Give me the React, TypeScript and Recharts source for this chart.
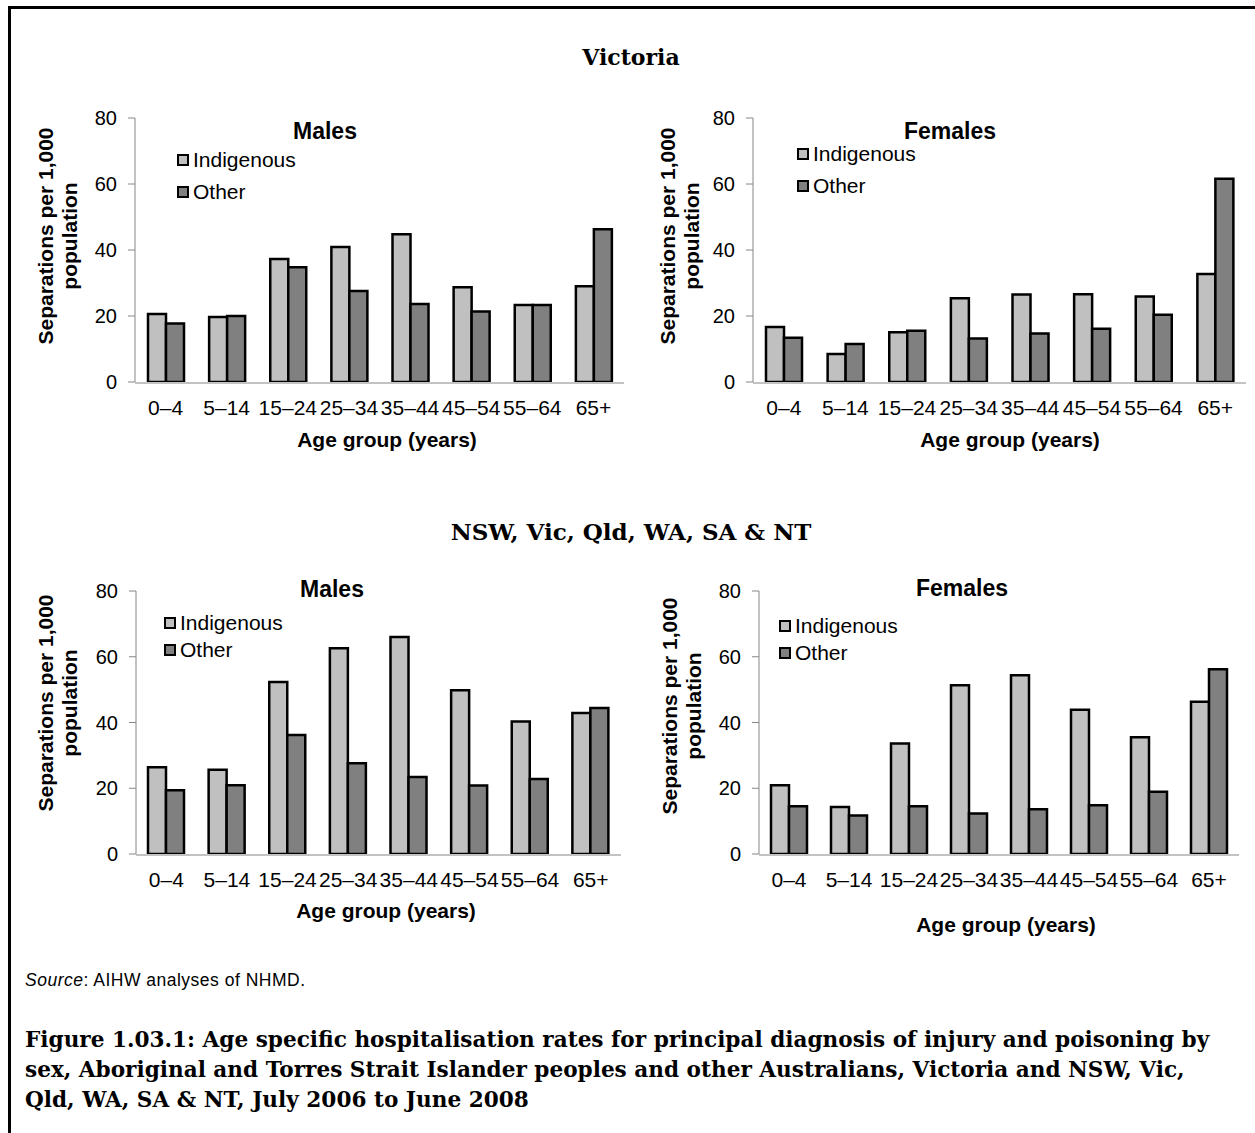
import React from "react";
import { BarChart, Bar, XAxis, YAxis, Legend } from "recharts";

// age groups on the x axis
const ageGroups = ["0–4", "5–14", "15–24", "25–34", "35–44", "45–54", "55–64", "65+"];

// Victoria
const vicMalesIndigenous = [20.6, 19.7, 37.3, 40.9, 44.8, 28.7, 23.3, 29.0];
const vicMalesOther = [17.7, 20.0, 34.8, 27.6, 23.6, 21.4, 23.3, 46.3];
const vicFemalesIndigenous = [16.7, 8.5, 15.1, 25.4, 26.5, 26.6, 25.9, 32.7];
const vicFemalesOther = [13.4, 11.5, 15.5, 13.2, 14.7, 16.1, 20.4, 61.6];

// NSW, Vic, Qld, WA, SA & NT
const allMalesIndigenous = [26.4, 25.6, 52.3, 62.6, 66.0, 49.8, 40.3, 42.9];
const allMalesOther = [19.4, 20.9, 36.2, 27.6, 23.4, 20.8, 22.8, 44.4];
const allFemalesIndigenous = [20.9, 14.3, 33.6, 51.3, 54.4, 43.9, 35.5, 46.3];
const allFemalesOther = [14.5, 11.7, 14.5, 12.3, 13.6, 14.8, 18.9, 56.2];

const yTicks = [0, 20, 40, 60, 80];
const edgeTicks = [0, 1, 2, 3, 4, 5, 6, 7, 8];

const SANS = "'Liberation Sans', Arial, sans-serif";
const SERIF = "'DejaVu Serif', serif";
const AXIS = "#868686";
const LIGHT = "#c0c0c0";
const DARK = "#808080";

const makeData = (ind: number[], oth: number[]) =>
  ageGroups.map((group, i) => ({ group, indigenous: ind[i], other: oth[i] }));

const Txt = ({ x, y, children, style }: any) => (
  <div
    style={{
      position: "absolute",
      left: x,
      top: y,
      transform: "translate(-50%, -50%)",
      whiteSpace: "nowrap",
      ...style,
    }}
  >
    {children}
  </div>
);

const YTitle = ({ x, y }: any) => (
  <div
    style={{
      position: "absolute",
      left: x,
      top: y,
      transform: "translate(-50%, -50%) rotate(-90deg)",
      whiteSpace: "nowrap",
      textAlign: "center",
      fontFamily: SANS,
      fontWeight: "bold",
      fontSize: 21,
      lineHeight: "24px",
    }}
  >
    Separations per 1,000
    <br />
    population
  </div>
);

const renderLegend = (rowH: number) => (props: any) => (
  <div style={{ fontFamily: SANS, fontSize: 21, color: "#000" }}>
    {(props.payload || []).map((e: any) => (
      <div key={e.value} style={{ display: "flex", alignItems: "center", height: rowH }}>
        <span
          style={{
            display: "inline-block",
            boxSizing: "border-box",
            width: 12,
            height: 12,
            background: e.color,
            border: "2px solid #000",
            marginRight: 4,
          }}
        />
        {e.value}
      </div>
    ))}
  </div>
);

const Panel = ({ data, title, p }: any) => {
  const chartLeft = p.plotLeft - 60;
  const chartTop = p.plotTop - 10;
  return (
    <>
      <div style={{ position: "absolute", left: chartLeft, top: chartTop }}>
        <BarChart
          width={60 + p.plotWidth + 10}
          height={10 + p.plotHeight + 2 + 48}
          data={data}
          margin={{ top: 10, right: 10, bottom: 48, left: 0 }}
          barGap={0}
          barSize={18}
        >
          <XAxis
            xAxisId="edge"
            type="number"
            domain={[0, 8]}
            ticks={edgeTicks}
            allowDataOverflow
            height={1}
            tick={false}
            tickSize={6}
            axisLine={{ stroke: AXIS }}
            tickLine={{ stroke: AXIS }}
          />
          <XAxis
            xAxisId="cat"
            dataKey="group"
            type="category"
            height={1}
            interval={0}
            axisLine={false}
            tickLine={false}
            tickSize={0}
            tickMargin={18}
            tick={{ fill: "#000", fontSize: 21, fontFamily: SANS }}
          />
          <YAxis
            type="number"
            domain={[0, 80]}
            ticks={yTicks}
            allowDataOverflow
            width={60}
            interval={0}
            tickSize={7}
            tickMargin={11}
            axisLine={{ stroke: AXIS }}
            tickLine={{ stroke: AXIS }}
            tick={{ fill: "#000", fontSize: 20, fontFamily: SANS }}
          />
          <Legend
            layout="vertical"
            align="center"
            verticalAlign="middle"
            wrapperStyle={{ left: p.legendLeft - chartLeft, top: p.legendTop - chartTop, width: 200, height: 70 }}
            content={renderLegend(p.legendRow)}
          />
          <Bar
            xAxisId="cat"
            dataKey="indigenous"
            name="Indigenous"
            fill={LIGHT}
            stroke="#000"
            strokeWidth={2.5}
            isAnimationActive={false}
          />
          <Bar
            xAxisId="cat"
            dataKey="other"
            name="Other"
            fill={DARK}
            stroke="#000"
            strokeWidth={2.5}
            isAnimationActive={false}
          />
        </BarChart>
      </div>
      <Txt x={p.titleX} y={p.titleY} style={{ fontFamily: SANS, fontWeight: "bold", fontSize: 23 }}>
        {title}
      </Txt>
      <Txt x={p.xTitleX} y={p.xTitleY} style={{ fontFamily: SANS, fontWeight: "bold", fontSize: 21 }}>
        Age group (years)
      </Txt>
      <YTitle x={p.yTitleX} y={p.yTitleY} />
    </>
  );
};

const vicMalesPos = {
  plotLeft: 135, plotTop: 118, plotWidth: 489, plotHeight: 264,
  legendLeft: 177, legendTop: 144, legendRow: 32,
  titleX: 325, titleY: 131, xTitleX: 387, xTitleY: 440, yTitleX: 58, yTitleY: 236,
};
const vicFemalesPos = {
  plotLeft: 753, plotTop: 118, plotWidth: 493, plotHeight: 264,
  legendLeft: 797, legendTop: 138, legendRow: 32,
  titleX: 950, titleY: 131, xTitleX: 1010, xTitleY: 440, yTitleX: 680, yTitleY: 236,
};
const allMalesPos = {
  plotLeft: 136, plotTop: 591, plotWidth: 485, plotHeight: 263,
  legendLeft: 164, legendTop: 609, legendRow: 27,
  titleX: 332, titleY: 589, xTitleX: 386, xTitleY: 911, yTitleX: 58, yTitleY: 703,
};
const allFemalesPos = {
  plotLeft: 759, plotTop: 591, plotWidth: 480, plotHeight: 263,
  legendLeft: 779, legendTop: 612, legendRow: 27,
  titleX: 962, titleY: 588, xTitleX: 1006, xTitleY: 925, yTitleX: 682, yTitleY: 706,
};

export default function App() {
  return (
    <div
      style={{
        position: "absolute",
        left: 0,
        top: 0,
        width: 1255,
        height: 1133,
        overflow: "hidden",
        background: "#fff",
        color: "#000",
      }}
    >
      <div
        style={{
          position: "absolute",
          left: 8,
          top: 6,
          width: 1300,
          height: 1200,
          borderTop: "3px solid #000",
          borderLeft: "3px solid #000",
        }}
      />
      <Txt x={631} y={57} style={{ fontFamily: SERIF, fontWeight: "bold", fontSize: 22 }}>
        Victoria
      </Txt>
      <Panel data={makeData(vicMalesIndigenous, vicMalesOther)} title="Males" p={vicMalesPos} />
      <Panel data={makeData(vicFemalesIndigenous, vicFemalesOther)} title="Females" p={vicFemalesPos} />
      <Txt x={631} y={531} style={{ fontFamily: SERIF, fontWeight: "bold", fontSize: 23 }}>
        NSW, Vic, Qld, WA, SA &amp; NT
      </Txt>
      <Panel data={makeData(allMalesIndigenous, allMalesOther)} title="Males" p={allMalesPos} />
      <Panel data={makeData(allFemalesIndigenous, allFemalesOther)} title="Females" p={allFemalesPos} />
      <div
        style={{
          position: "absolute",
          left: 25,
          top: 970,
          fontFamily: SANS,
          fontSize: 17.5,
          letterSpacing: 0.5,
          whiteSpace: "nowrap",
        }}
      >
        <i>Source</i>: AIHW analyses of NHMD.
      </div>
      <div
        style={{
          position: "absolute",
          left: 25,
          top: 1025,
          fontFamily: SERIF,
          fontWeight: "bold",
          fontSize: 21.6,
          lineHeight: "30px",
          whiteSpace: "nowrap",
        }}
      >
        Figure 1.03.1: Age specific hospitalisation rates for principal diagnosis of injury and poisoning by
        <br />
        sex, Aboriginal and Torres Strait Islander peoples and other Australians, Victoria and NSW, Vic,
        <br />
        Qld, WA, SA &amp; NT, July 2006 to June 2008
      </div>
    </div>
  );
}
